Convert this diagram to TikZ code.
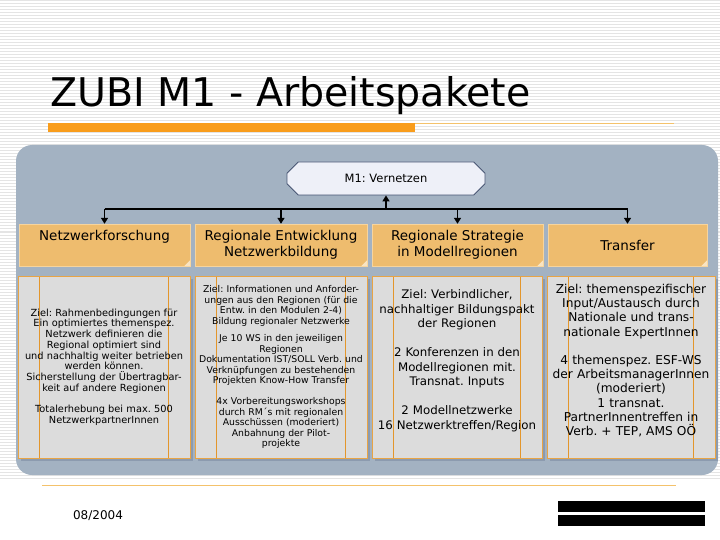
\documentclass[tikz,border=0pt]{standalone}
\usepackage{fontspec}
\setmainfont{DejaVu Sans}
\usepackage{tikz}
\usetikzlibrary{shapes.misc, arrows.meta, shadows}
\definecolor{panel}{HTML}{A3B2C2}
\definecolor{panelshade}{HTML}{8C9BAF}
\definecolor{headfill}{HTML}{EEBC6E}
\definecolor{headline}{HTML}{F7D49C}
\definecolor{headfold}{HTML}{F9E4C2}
\definecolor{bodyfill}{HTML}{DCDCDC}
\definecolor{bodyline}{HTML}{E8A445}
\definecolor{guideline}{HTML}{E3962C}
\definecolor{topfill}{HTML}{EEF0F8}
\definecolor{topline}{HTML}{485573}
\definecolor{orangebar}{HTML}{F99D1C}
\definecolor{thinorange}{HTML}{F4C26B}
\definecolor{stripe}{HTML}{E4E4E4}
\newcommand{\fs}[2]{\fontsize{#1}{#2}\selectfont}

\begin{document}
\frenchspacing
\begin{tikzpicture}[x=1pt, y=-1pt,
  head/.style={draw=headline, fill=headfill, minimum height=42pt, inner sep=0pt,
    align=center, font=\fs{13.5}{16}},
  body/.style={draw=bodyline, fill=bodyfill, minimum height=182pt, inner sep=0pt,
    align=center, drop shadow={shadow xshift=3pt, shadow yshift=-3pt, fill=panelshade, opacity=1},
    path picture={
      \draw[guideline, line width=1pt] ([xshift=21.5pt]path picture bounding box.north west)
        -- ([xshift=21.5pt]path picture bounding box.south west);
      \draw[guideline, line width=1pt] ([xshift=-21.5pt]path picture bounding box.north east)
        -- ([xshift=-21.5pt]path picture bounding box.south east);}},
  conn/.style={line width=1.6pt, black},
  tip/.style={-{Triangle[length=6pt, width=7pt]}}]
\useasboundingbox (0,0) rectangle (720,540);

% striped background
\foreach \i in {0,...,159}
  \draw[stripe, line width=1pt] (0,3*\i+1) -- (720,3*\i+1);

% title
\node[anchor=base west, inner sep=0pt, font=\fs{39.5}{42}] (title) at (50,107) {ZUBI M1 - Arbeitspakete};
\fill[orangebar] (48,123) rectangle (415,132);
\draw[thinorange, line width=0.8pt] (415,123.5) -- (674,123.5);

% panel
\fill[panel, rounded corners=16pt] (16,145) rectangle (718,475);

% top node
\node[chamfered rectangle, chamfered rectangle xsep=7pt, chamfered rectangle ysep=7pt,
  draw=topline, line width=0.8pt, fill=topfill, minimum width=198pt, minimum height=33pt,
  inner sep=0pt, font=\fs{11.5}{14}] (m1) at (386,178.5) {M1: Vernetzen};

% work packages
\node[head, minimum width=171pt] (h1) at (104.5,245) {Netzwerkforschung\\[3pt]\mbox{}};
\node[head, minimum width=172pt] (h2) at (281,245) {Regionale Entwicklung\\Netzwerkbildung};
\node[head, minimum width=171pt] (h3) at (457.5,245) {Regionale Strategie\\in Modellregionen};
\node[head, minimum width=159pt] (h4) at (627.5,245) {Transfer};
\foreach \h in {h1,h2,h3,h4}
  \fill[headfold] ([xshift=-6pt]\h.south east) -- (\h.south east) -- ([yshift=6pt]\h.south east) -- cycle;

\node[body, minimum width=172pt, text width=168pt, font=\fs{9.8}{10.7}] (b1) at (104,367)
  {Ziel: Rahmenbedingungen für\\Ein optimiertes themenspez.\\Netzwerk definieren die\\
   Regional optimiert sind\\und nachhaltig weiter betrieben\\werden können.\\
   Sicherstellung der Übertragbar-\\keit auf andere Regionen\\[10.7pt]
   Totalerhebung bei max. 500\\NetzwerkpartnerInnen};
\node[body, minimum width=172pt, text width=170pt, font=\fs{9.3}{10.5}] (b2) at (281,367)
  {Ziel: Informationen und Anforder-\\ungen aus den Regionen (für die\\
   Entw. in den Modulen 2-4)\\Bildung regionaler Netzwerke\\[7pt]
   Je 10 WS in den jeweiligen\\Regionen\\Dokumentation IST/SOLL Verb. und\\
   Verknüpfungen zu bestehenden\\Projekten Know-How Transfer\\[10.5pt]
   4x Vorbereitungsworkshops\\durch RM´s mit regionalen\\Ausschüssen (moderiert)\\
   Anbahnung der Pilot-\\projekte};
\node[body, minimum width=170pt, text width=168pt, font=\fs{11.8}{14.5}] (b3) at (457,367)
  {Ziel: Verbindlicher,\\nachhaltiger Bildungspakt\\der Regionen\\[14.5pt]
   2 Konferenzen in den\\Modellregionen mit.\\Transnat. Inputs\\[14.5pt]
   2 Modellnetzwerke\\16 Netzwerktreffen/Region\\\mbox{}};
\node[body, minimum width=168pt, text width=166pt, font=\fs{12.2}{14.2}] (b4) at (631,367)
  {Ziel: themenspezifischer\\Input/Austausch durch\\Nationale und trans-\\
   nationale ExpertInnen\\[14.2pt]
   4 themenspez. ESF-WS\\der ArbeitsmanagerInnen\\(moderiert)\\1 transnat.\\
   PartnerInnentreffen in\\Verb. + TEP, AMS OÖ\\\mbox{}};

% connectors
\coordinate (bus) at (0,209);
\draw[conn] (h1.north |- bus) -- (h4.north |- bus);
\draw[conn, tip] (m1.south |- bus) -- (m1.south);
\foreach \h in {h1,h2,h3,h4}
  \draw[conn, tip] (\h.north |- bus) -- (\h.north);

% footer
\draw[thinorange, line width=0.8pt] (42,485) -- (676,485);
\node[inner sep=0pt, font=\fs{12}{14}] (date) at (98,516) {08/2004};
\fill[black] (558,501) rectangle (705,512);
\fill[black] (558,515) rectangle (705,526);
\end{tikzpicture}
\end{document}
